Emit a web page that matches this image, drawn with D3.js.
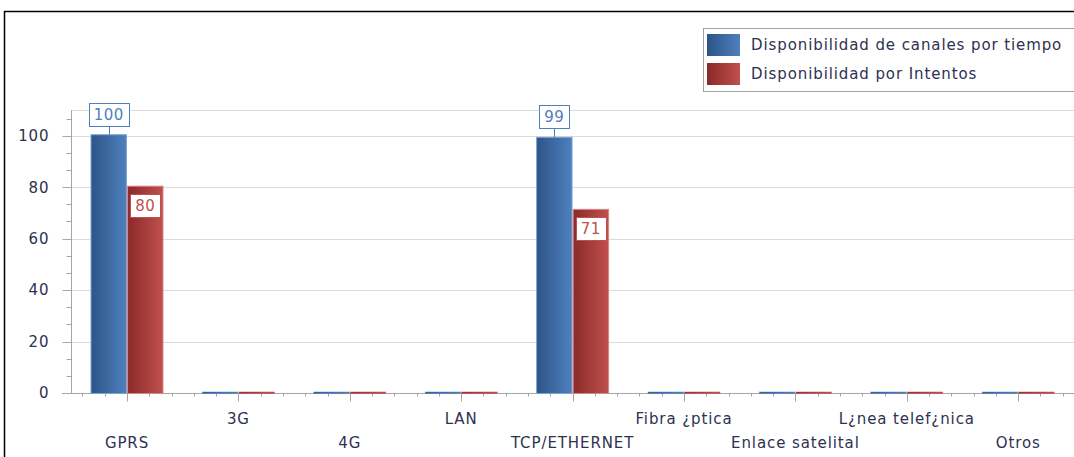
<!DOCTYPE html>
<html>
<head>
<meta charset="utf-8">
<script src="https://cdn.jsdelivr.net/npm/d3@7"></script>
<style>
  body { margin: 0; background: #fff; }
  svg { display: block; }
  text { font-family: "DejaVu Sans", Verdana, sans-serif; }
</style>
</head>
<body>
<svg id="chart" width="1074" height="457"></svg>
<script>
const categories = ['GPRS', '3G', '4G', 'LAN', 'TCP/ETHERNET', 'Fibra ¿ptica', 'Enlace satelital', 'L¿nea telef¿nica', 'Otros'];
const seriesNames = ['Disponibilidad de canales por tiempo', 'Disponibilidad por Intentos'];
const porTiempo = [100, 0, 0, 0, 99, 0, 0, 0, 0];
const porIntentos = [80, 0, 0, 0, 71, 0, 0, 0, 0];
const yTicks = [0, 20, 40, 60, 80, 100];

(function (w, d) {
  var width = 1074, height = 457;
  var margin = {top: 110, bottom: 64, left: 71.3};
  var textColor = '#2e3150';
  var axisColor = '#a6a6a6';

  var series = [
    {name: seriesNames[0], values: porTiempo, dark: '#2d5487', light: '#4f80bd', edge: '#7ea3d3', label: 'above'},
    {name: seriesNames[1], values: porIntentos, dark: '#8a2a2a', light: '#c0504d', edge: '#d68886', label: 'inside'}
  ];

  var svg = d3.select('#chart');

  // frame
  svg.append('path')
    .attr('d', `M4.5,${height} V11.5 H${width}`)
    .attr('fill', 'none')
    .attr('stroke', '#000')
    .attr('stroke-width', 1.5);

  var defs = svg.append('defs');
  series.forEach((s, i) => {
    var g = defs.append('linearGradient').attr('id', 'grad' + i)
      .attr('x1', 0).attr('x2', 1).attr('y1', 0).attr('y2', 0);
    g.append('stop').attr('offset', 0).attr('stop-color', s.dark);
    g.append('stop').attr('offset', 1).attr('stop-color', s.light);
  });

  var x = d3.scaleBand()
    .domain(categories)
    .range([margin.left, margin.left + categories.length * 111.4]);

  var xInner = d3.scaleBand()
    .domain(series.map(s => s.name))
    .range([-36, 36])
    .paddingInner(0.03);

  var y = d3.scaleLinear()
    .domain([0, 110])
    .range([height - margin.bottom, margin.top]);

  var y0 = y(0);

  // gridlines
  svg.append('g')
    .selectAll('line')
    .data(yTicks.filter(t => t > 0).concat([110]))
    .enter().append('line')
    .attr('x1', margin.left).attr('x2', width)
    .attr('y1', t => Math.round(y(t)) + 0.5).attr('y2', t => Math.round(y(t)) + 0.5)
    .attr('stroke', '#dcdcdc');

  // y axis
  var yAxis = svg.append('g').attr('transform', `translate(${Math.round(margin.left) + 0.5},0)`);
  var minor = d3.range(0, 110, 20 / 3);
  yAxis.selectAll('line.minor')
    .data(minor)
    .enter().append('line')
    .attr('x1', -5).attr('x2', 0)
    .attr('y1', t => Math.round(y(t)) + 0.5).attr('y2', t => Math.round(y(t)) + 0.5)
    .attr('stroke', axisColor);
  yAxis.selectAll('line.major')
    .data(yTicks)
    .enter().append('line')
    .attr('x1', -9).attr('x2', 0)
    .attr('y1', t => Math.round(y(t)) + 0.5).attr('y2', t => Math.round(y(t)) + 0.5)
    .attr('stroke', axisColor);
  yAxis.selectAll('text')
    .data(yTicks)
    .enter().append('text')
    .attr('x', -22)
    .attr('y', t => y(t))
    .attr('dy', '0.36em')
    .attr('text-anchor', 'end')
    .attr('font-size', 15)
    .attr('letter-spacing', 0.9)
    .attr('fill', textColor)
    .text(t => t);
  yAxis.append('line')
    .attr('y1', y(110)).attr('y2', y0)
    .attr('stroke', axisColor);

  // x axis
  var xAxis = svg.append('g').attr('transform', `translate(0,${Math.round(y0) + 0.5})`);
  xAxis.append('line')
    .attr('x1', 62).attr('x2', width)
    .attr('stroke', axisColor);
  var step = x.bandwidth() / 5;
  var minorX = [];
  categories.forEach(c => {
    for (var k = -2; k <= 2; k++) {
      if (k !== 0) minorX.push(x(c) + x.bandwidth() / 2 + k * step);
    }
  });
  xAxis.selectAll('line.minor')
    .data(minorX)
    .enter().append('line')
    .attr('x1', v => Math.round(v) + 0.5).attr('x2', v => Math.round(v) + 0.5)
    .attr('y1', 0).attr('y2', 3)
    .attr('stroke', axisColor);
  xAxis.selectAll('line.major')
    .data(categories)
    .enter().append('line')
    .attr('x1', c => Math.round(x(c) + x.bandwidth() / 2) + 0.5)
    .attr('x2', c => Math.round(x(c) + x.bandwidth() / 2) + 0.5)
    .attr('y1', 0).attr('y2', 8)
    .attr('stroke', axisColor);
  xAxis.selectAll('text')
    .data(categories)
    .enter().append('text')
    .attr('x', c => x(c) + x.bandwidth() / 2)
    .attr('y', (c, i) => i % 2 === 0 ? 49 : 25)
    .attr('dy', '0.36em')
    .attr('text-anchor', 'middle')
    .attr('font-size', 15)
    .attr('letter-spacing', 0.9)
    .attr('fill', textColor)
    .text(c => c);

  // bars
  series.forEach((s, si) => {
    var g = svg.append('g');
    g.selectAll('rect')
      .data(s.values)
      .enter().append('rect')
      .attr('x', (v, i) => x(categories[i]) + x.bandwidth() / 2 + xInner(s.name))
      .attr('width', xInner.bandwidth())
      .attr('y', v => y(v) - 1)
      .attr('height', v => y0 - y(v) + 1.5)
      .attr('fill', `url(#grad${si})`)
      .attr('stroke', v => v > 0 ? s.edge : s.light)
      .attr('stroke-width', v => v > 0 ? 1 : 0.5);
  });

  // value labels
  series.forEach(s => {
    var g = svg.append('g');
    s.values.forEach((v, i) => {
      if (v <= 0) return;
      var cx = x(categories[i]) + x.bandwidth() / 2 + xInner(s.name) + xInner.bandwidth() / 2;
      var lg = g.append('g');
      var t = lg.append('text')
        .attr('font-size', 15)
        .attr('letter-spacing', 0.5)
        .attr('text-anchor', 'middle')
        .attr('fill', s.light)
        .text(v);
      var tw = t.node().getComputedTextLength();
      var bw = tw + 10, bh = 23;
      var top = s.label === 'above' ? y(v) - 10 - bh : y(v) + 7;
      if (s.label === 'above') {
        lg.insert('line', 'text')
          .attr('x1', Math.round(cx) + 0.5).attr('x2', Math.round(cx) + 0.5)
          .attr('y1', top + bh).attr('y2', y(v) - 1)
          .attr('stroke', s.light);
      }
      lg.insert('rect', 'text')
        .attr('x', Math.round(cx - bw / 2) + 0.5)
        .attr('y', Math.round(top) + 0.5)
        .attr('width', Math.round(bw))
        .attr('height', bh)
        .attr('fill', '#fff')
        .attr('stroke', s.light);
      t.attr('x', cx).attr('y', top + bh / 2).attr('dy', '0.36em');
    });
  });

  // legend
  var legend = svg.append('g').attr('transform', 'translate(703.5,28.5)');
  legend.append('rect')
    .attr('width', 380).attr('height', 63)
    .attr('fill', '#fff')
    .attr('stroke', '#a0a0a0');
  var items = legend.selectAll('g')
    .data(series)
    .enter().append('g')
    .attr('transform', (s, i) => `translate(3.5,${5.5 + i * 29})`);
  items.append('rect')
    .attr('width', 33).attr('height', 22)
    .attr('fill', (s, i) => `url(#grad${i})`);
  items.append('text')
    .attr('x', 44)
    .attr('y', 11)
    .attr('dy', '0.36em')
    .attr('font-size', 15)
    .attr('letter-spacing', 0.9)
    .attr('fill', textColor)
    .text(s => s.name);
}(window, document));
</script>
</body>
</html>
